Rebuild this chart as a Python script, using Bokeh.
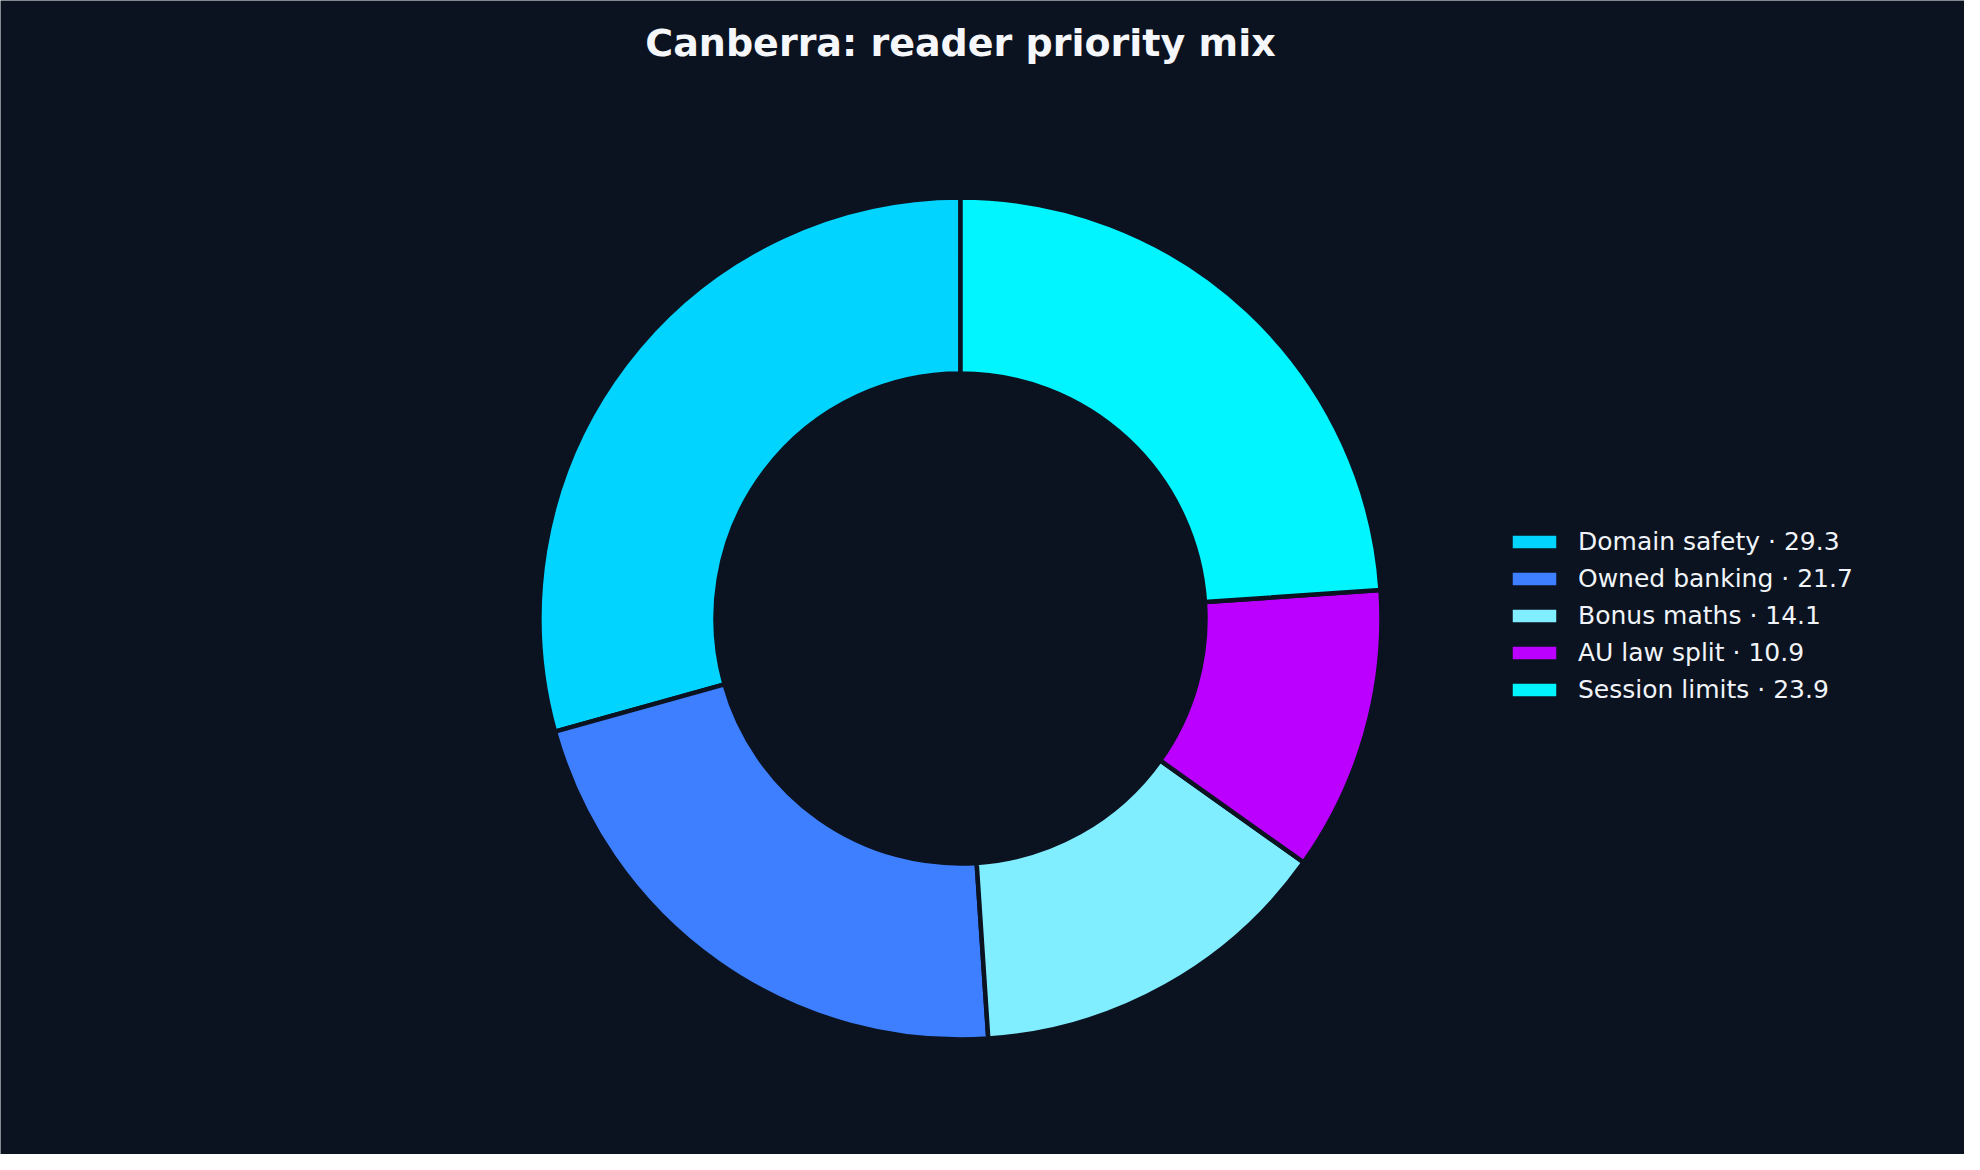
import numpy as np
from bokeh.plotting import figure
from bokeh.models import ColumnDataSource, Legend, LegendItem, Label, Range1d
from bokeh.embed import file_html
from bokeh.resources import INLINE

categories = ["Domain safety", "Owned banking", "Bonus maths", "AU law split", "Session limits"]
values = [29.3, 21.7, 14.1, 10.9, 23.9]
colors = ["#00d4ff", "#3d7fff", "#80eeff", "#bb00ff", "#00f5ff"]
title_text = "Canberra: reader priority mix"

BG = "#0b1220"
W, H = 1964, 1154
CX, CY = 960, H - 618
R_OUT, R_IN = 421, 245

vals = np.array(values, dtype=float)
total = vals.sum()
cum = np.concatenate([[0.0], np.cumsum(vals)[:-1]])
starts = np.pi / 2 + 2 * np.pi * cum / total
ends = starts + 2 * np.pi * vals / total

src = ColumnDataSource(dict(
    cat=categories, val=values, color=colors,
    start=starts, end=ends,
    x=[CX] * len(values), y=[CY] * len(values),
    label=[f"{c} \u00b7 {v:.1f}" for c, v in zip(categories, values)],
))

p = figure(width=W, height=H, output_backend="svg", toolbar_location=None,
           x_range=Range1d(0, W), y_range=Range1d(0, H), min_border=0,
           x_axis_location=None, y_axis_location=None,
           background_fill_color=BG, border_fill_color=BG, outline_line_color=None)
p.grid.visible = False

r = p.annular_wedge(x="x", y="y", inner_radius=R_IN, outer_radius=R_OUT,
                    start_angle="start", end_angle="end", direction="anticlock",
                    fill_color="color", line_color=BG, line_width=4.5, source=src)

items = [LegendItem(label=src.data["label"][i], renderers=[r], index=i) for i in range(len(values))]
legend = Legend(items=items, location=(1504, 450),
                background_fill_alpha=0, border_line_color=None,
                label_text_color="#f0f4f8", label_text_font="DejaVu Sans",
                label_text_font_size="25px", glyph_width=60, glyph_height=21,
                label_standoff=14, spacing=7, padding=0, margin=0,
                label_height=30)
p.add_layout(legend, "center")

p.add_layout(Label(x=960, y=H - 42, text=title_text, text_align="center",
                   text_baseline="middle", text_color="#f5f7fa",
                   text_font="DejaVu Sans", text_font_style="bold",
                   text_font_size="38px"))

open("out.html", "w").write(file_html(p, INLINE))
